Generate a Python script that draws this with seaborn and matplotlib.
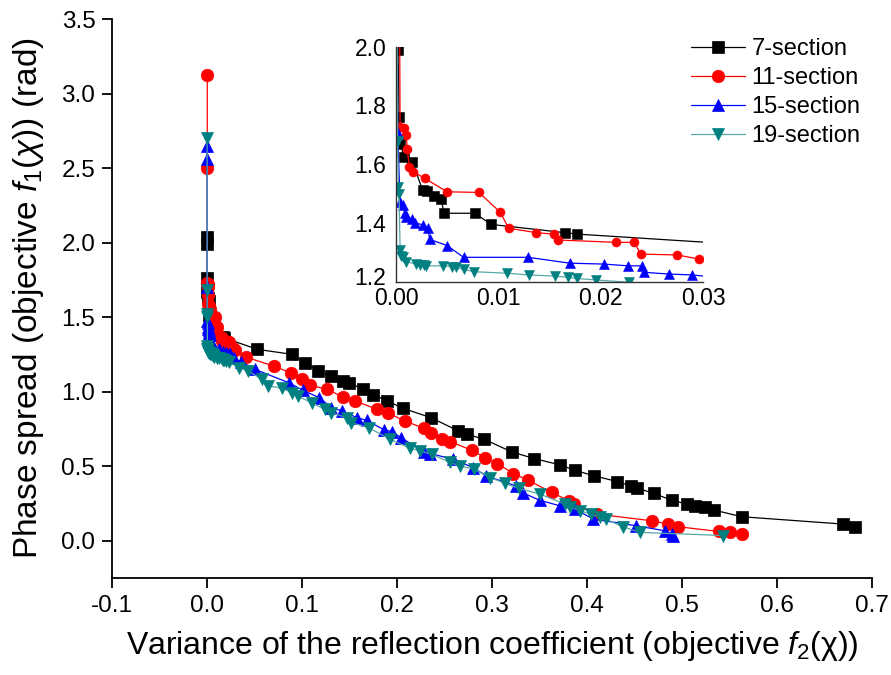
import matplotlib
matplotlib.use("Agg")
import matplotlib.pyplot as plt
import matplotlib.transforms as mtrans
import seaborn as sns
import numpy as np

# ---------------- data ----------------
labels = ["7-section", "11-section", "15-section", "19-section"]

x7 = [0.0001, 0.0002, 0.0003, 0.0004, 0.0008, 0.0016, 0.0026, 0.0030, 0.0037, 0.0044,
      0.0047, 0.0077, 0.0093, 0.0165, 0.0177, 0.053, 0.0898, 0.103, 0.117, 0.130,
      0.1435, 0.149, 0.1646, 0.175, 0.189, 0.206, 0.2355, 0.2646, 0.274, 0.2916,
      0.3207, 0.3445, 0.3716, 0.387, 0.4077, 0.432, 0.446, 0.453, 0.4705, 0.489,
      0.505, 0.5137, 0.524, 0.5337, 0.5628, 0.669, 0.682]
y7 = [2.04, 1.99, 1.76, 1.67, 1.626, 1.608, 1.512, 1.51, 1.493, 1.482,
      1.433, 1.433, 1.395, 1.367, 1.362, 1.284, 1.25, 1.19, 1.14, 1.105,
      1.07, 1.06, 1.016, 0.98, 0.94, 0.889, 0.826, 0.737, 0.714, 0.681,
      0.596, 0.551, 0.509, 0.473, 0.435, 0.397, 0.368, 0.353, 0.317, 0.272,
      0.246, 0.234, 0.223, 0.206, 0.161, 0.112, 0.089]

x11 = [0.0003, 0.0003, 0.0004, 0.00078, 0.0010, 0.0011, 0.0013, 0.0017, 0.0028,
       0.0050, 0.0081, 0.0102, 0.0110, 0.0137, 0.0154, 0.0158, 0.0215, 0.0233, 0.0239, 0.0275, 0.0296,
       0.041, 0.070, 0.088, 0.100, 0.108, 0.126, 0.1435, 0.156, 0.1786, 0.190,
       0.208, 0.228, 0.2355, 0.247, 0.256, 0.2786, 0.2926, 0.3056, 0.3225, 0.338,
       0.3628, 0.381, 0.386, 0.410, 0.468, 0.485, 0.496, 0.539, 0.550, 0.5635]
y11 = [3.126, 2.50, 1.728, 1.722, 1.70, 1.651, 1.591, 1.574, 1.552,
       1.506, 1.504, 1.436, 1.382, 1.367, 1.362, 1.342, 1.334, 1.334, 1.294, 1.291, 1.277,
       1.232, 1.172, 1.127, 1.083, 1.045, 1.016, 0.964, 0.938, 0.882, 0.859,
       0.804, 0.755, 0.726, 0.681, 0.665, 0.607, 0.558, 0.518, 0.451, 0.406,
       0.324, 0.268, 0.246, 0.179, 0.134, 0.112, 0.094, 0.062, 0.056, 0.045]

x15 = [0.0001, 0.0001, 0.00016, 0.0004, 0.00065, 0.0009, 0.0010, 0.0016, 0.0019, 0.0026,
       0.0031, 0.0033, 0.0050, 0.0066, 0.0129, 0.0170, 0.0203, 0.0227, 0.0240, 0.0242,
       0.0267, 0.0289, 0.036, 0.0505, 0.086, 0.101, 0.118, 0.131, 0.142, 0.1576,
       0.168, 0.186, 0.195, 0.204, 0.228, 0.235, 0.259, 0.280, 0.294, 0.325,
       0.333, 0.350, 0.3716, 0.387, 0.4067, 0.452, 0.482, 0.489, 0.491]
y15 = [2.65, 2.56, 1.705, 1.472, 1.461, 1.435, 1.421, 1.412, 1.401, 1.393,
       1.382, 1.344, 1.323, 1.283, 1.283, 1.263, 1.260, 1.254, 1.254, 1.232,
       1.226, 1.223, 1.20, 1.15, 1.06, 1.009, 0.96, 0.893, 0.871, 0.826,
       0.808, 0.745, 0.732, 0.692, 0.598, 0.585, 0.547, 0.491, 0.435, 0.368,
       0.32, 0.272, 0.234, 0.212, 0.146, 0.10, 0.067, 0.045, 0.035]

x19 = [0.0001, 0.00016, 0.00023, 0.0003, 0.0004, 0.00046, 0.00065, 0.0010, 0.0020, 0.0023,
       0.0027, 0.0029, 0.0046, 0.0055, 0.0059, 0.0066, 0.0076, 0.0108, 0.0130, 0.0155,
       0.0168, 0.0177, 0.0195, 0.0228, 0.0337, 0.0435, 0.0576, 0.0646, 0.0793, 0.089,
       0.0955, 0.110, 0.124, 0.131, 0.147, 0.152, 0.170, 0.1926, 0.2137, 0.224,
       0.2365, 0.256, 0.2663, 0.281, 0.298, 0.3137, 0.328, 0.3505, 0.3768, 0.382,
       0.393, 0.404, 0.4137, 0.420, 0.4376, 0.456, 0.5435]
y19 = [2.70, 1.68, 1.523, 1.50, 1.308, 1.287, 1.283, 1.268, 1.26, 1.257,
       1.257, 1.254, 1.254, 1.251, 1.249, 1.242, 1.234, 1.229, 1.223, 1.219,
       1.215, 1.211, 1.206, 1.198, 1.161, 1.139, 1.083, 1.038, 1.023, 0.993,
       0.971, 0.926, 0.882, 0.859, 0.826, 0.792, 0.759, 0.681, 0.621, 0.603,
       0.58, 0.525, 0.502, 0.48, 0.424, 0.385, 0.352, 0.313, 0.246, 0.228,
       0.201, 0.179, 0.156, 0.145, 0.094, 0.056, 0.035]

main_xticks = [-0.1, 0.0, 0.1, 0.2, 0.3, 0.4, 0.5, 0.6, 0.7]
main_yticks = [0.0, 0.5, 1.0, 1.5, 2.0, 2.5, 3.0, 3.5]
inset_xticks = [0.00, 0.01, 0.02, 0.03]
inset_yticks = [1.2, 1.4, 1.6, 1.8, 2.0]

series = [(x7, y7), (x11, y11), (x15, y15), (x19, y19)]
styles = [
    dict(color="black", marker="s", mfc="black", mec="black"),
    dict(color="#ff0000", marker="o", mfc="#ff0000", mec="#ff0000"),
    dict(color="#0000ff", marker="^", mfc="#0000ff", mec="#0000ff"),
    dict(color="#56aaa6", marker="v", mfc="#008080", mec="#008080"),
]

# ---------------- style ----------------
sns.set_style("ticks")
plt.rcParams["font.family"] = ["Liberation Sans", "DejaVu Sans"]
plt.rcParams["mathtext.fontset"] = "custom"
plt.rcParams["mathtext.rm"] = "Liberation Sans"
plt.rcParams["mathtext.it"] = "Liberation Sans:italic"
plt.rcParams["mathtext.default"] = "regular"
for k in ["text.color", "axes.labelcolor", "xtick.color", "ytick.color", "axes.edgecolor"]:
    plt.rcParams[k] = "black"

W, H = 891, 675
fig = plt.figure(figsize=(W / 100, H / 100), dpi=100)

# main axes
ax = fig.add_axes([112 / W, 1 - 578 / H, 760 / W, (578 - 19) / H])
for (xs, ys), st, lab in zip(series, styles, labels):
    sns.lineplot(x=np.array(xs), y=np.array(ys), ax=ax, sort=False, estimator=None,
                 color=st["color"], marker=st["marker"], markersize=9,
                 markerfacecolor=st["mfc"], markeredgecolor=st["mec"],
                 markeredgewidth=0.5, linewidth=0.9, label=lab)

ax.set_xlim(-0.1, 0.7)
ax.set_ylim(-0.25, 3.5)
ax.set_xticks(main_xticks)
ax.set_yticks(main_yticks)
ax.set_xticklabels([f"{v:.1f}" for v in main_xticks])
ax.set_yticklabels([f"{v:.1f}" for v in main_yticks])
for s in ["top", "right"]:
    ax.spines[s].set_visible(False)
for s in ["left", "bottom"]:
    ax.spines[s].set_linewidth(1.3)
    ax.spines[s].set_color("black")
ax.tick_params(direction="out", length=7, width=1.3, labelsize=17.5, pad=5,
               colors="black")
ax.set_xlabel(r"Variance of the reflection coefficient (objective $\mathit{f}_2$($\chi$))",
              fontsize=23, color="black")
ax.set_ylabel(r"Phase spread (objective $\mathit{f}_1$($\mathit{\chi}$)) (rad)",
              fontsize=24, color="black")
ax.xaxis.set_label_coords(0.5, -0.091)
ax.yaxis.set_label_coords(-0.087, 0.5)

handles, labs = ax.get_legend_handles_labels()
if ax.legend_ is not None:
    ax.legend_.remove()

# inset axes
axi = fig.add_axes([396 / W, 1 - 281.7 / H, (703 - 396) / W, (281.7 - 46.7) / H])
axi.set_facecolor("none")
for (xs, ys), st in zip(series, styles):
    sns.lineplot(x=np.array(xs), y=np.array(ys), ax=axi, sort=False, estimator=None,
                 color=st["color"], marker=st["marker"], markersize=6.5,
                 markerfacecolor=st["mfc"], markeredgecolor=st["mec"],
                 markeredgewidth=0.4, linewidth=0.9, legend=False)
axi.set_xlim(0.0, 0.03)
axi.set_ylim(1.2, 2.0)
axi.set_xticks(inset_xticks)
axi.set_yticks(inset_yticks)
axi.set_xticklabels([f"{v:.2f}" for v in inset_xticks])
axi.set_yticklabels([f"{v:.1f}" for v in inset_yticks])
for s in ["top", "right"]:
    axi.spines[s].set_visible(False)
for s in ["left", "bottom"]:
    axi.spines[s].set_linewidth(1.0)
    axi.spines[s].set_color("#333333")
axi.tick_params(axis="x", length=0, labelsize=16.5, pad=3.5, colors="black")
axi.tick_params(axis="y", length=0, labelsize=16.5, pad=7, colors="black")
axi.set_xlabel("")
axi.set_ylabel("")
# nudge the lowest inset y label up a little so it clears the "0.00" label
lowest = axi.get_yticklabels()[0]
lowest.set_transform(lowest.get_transform() +
                     mtrans.ScaledTranslation(0, 4 / 72, fig.dpi_scale_trans))

fig.legend(handles, labs, loc="upper right", bbox_to_anchor=(0.966, 0.944),
           frameon=False, fontsize=17, handlelength=2.25, handletextpad=0.3,
           labelspacing=0.3, borderpad=0, borderaxespad=0)

fig.savefig("out.png", dpi=100)
